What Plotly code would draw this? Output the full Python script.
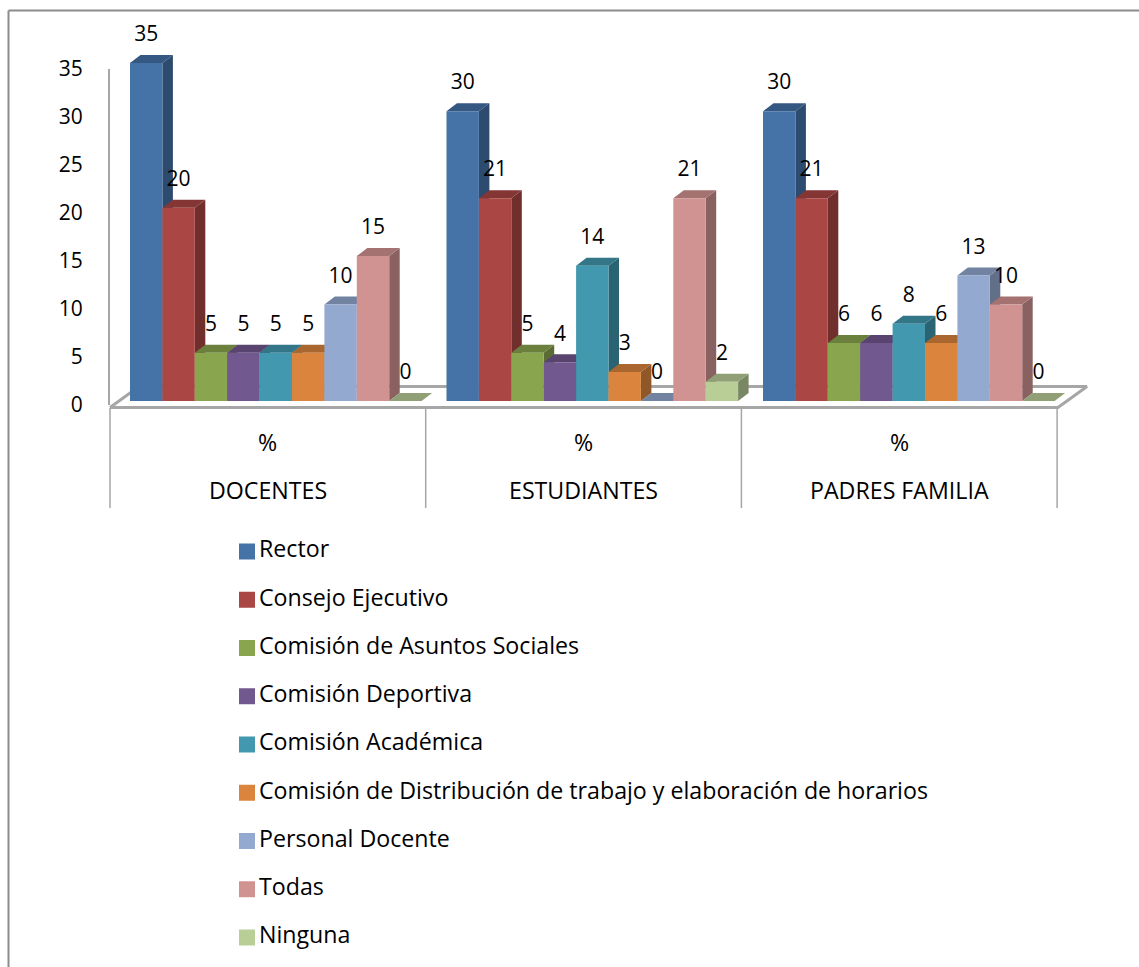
import plotly.graph_objects as go

# ---------- data ----------
groups = ["DOCENTES", "ESTUDIANTES", "PADRES FAMILIA"]
sub_label = "%"
series_names = [
    "Rector",
    "Consejo Ejecutivo",
    "Comisión de Asuntos Sociales",
    "Comisión Deportiva",
    "Comisión Académica",
    "Comisión de Distribución de trabajo y elaboración de horarios",
    "Personal Docente",
    "Todas",
    "Ninguna",
]
rector = [35, 30, 30]
consejo = [20, 21, 21]
asuntos = [5, 5, 6]
deportiva = [5, 4, 6]
academica = [5, 14, 8]
distribucion = [5, 3, 6]
docente = [10, 0, 13]
todas = [15, 21, 10]
ninguna = [0, 2, 0]
series_values = [rector, consejo, asuntos, deportiva, academica, distribucion, docente, todas, ninguna]
colors = ["#4572A7", "#AA4643", "#89A54E", "#71588F", "#4198AF", "#DB843D", "#93A9CF", "#D19392", "#B9CD96"]

# ---------- layout constants ----------
W, H = 1139, 967
FONT = "Open Sans"
FS = 23.2
FS_NUM = 21
GREY = "#A6A6A6"
GROUP_PX, ORIGIN_PX, BAR_PX = 316.5, 130.0, 32.4
BASE_PY, UNIT_PY = 401.0, 9.66
DX_PX, DY_PY = 10.5, 8.0


def X(px):
    return (px - ORIGIN_PX) / GROUP_PX


def Y(py):
    return (BASE_PY - py) / UNIT_PY


def shade(hex_color, f):
    r, g, b = (int(hex_color[i:i + 2], 16) for i in (1, 3, 5))
    return f"rgb({int(r * f)},{int(g * f)},{int(b * f)})"


bw = BAR_PX / GROUP_PX
ddx = DX_PX / GROUP_PX
ddy = DY_PY / UNIT_PY
xrange_ = [X(0), X(W)]
yrange_ = [Y(H), Y(0)]

fig = go.Figure()

# floor
fig.add_trace(go.Scatter(
    x=[X(110), X(139), X(1087), X(1058), X(110)],
    y=[Y(407.5), Y(386.5), Y(386.5), Y(407.5), Y(407.5)],
    mode="lines", fill="toself", fillcolor="white",
    line=dict(color=GREY, width=3), hoverinfo="skip", showlegend=False,
))

# 3-D faces (side + top) computed from the values
for s, vals in enumerate(series_values):
    sx, sy, tx, ty = [], [], [], []
    for g, v in enumerate(vals):
        x0 = g + s * bw
        x1 = x0 + bw
        sx += [x1, x1 + ddx, x1 + ddx, x1, None]
        sy += [0, ddy, v + ddy, v, None]
        tx += [x0, x0 + ddx, x1 + ddx, x1, None]
        ty += [v, v + ddy, v + ddy, v, None]
    for fx, fy, f in ((sx, sy, 0.66), (tx, ty, 0.78)):
        fig.add_trace(go.Scatter(
            x=fx, y=fy, mode="lines", fill="toself",
            fillcolor=shade(colors[s], f), line=dict(width=0),
            hoverinfo="skip", showlegend=False,
        ))

# front faces
for s, (name, vals) in enumerate(zip(series_names, series_values)):
    fig.add_trace(go.Bar(
        x=[g + (s + 0.5) * bw for g in range(len(groups))], y=vals, width=bw,
        name=name, marker=dict(color=colors[s], line=dict(width=0)),
        xaxis="x2", yaxis="y2", showlegend=False,
    ))

# data labels
LABEL_UP = 27 / UNIT_PY
for s, vals in enumerate(series_values):
    fig.add_trace(go.Scatter(
        x=[g + (s + 0.5) * bw for g in range(len(groups))],
        y=[v + LABEL_UP for v in vals],
        text=[str(v) for v in vals], mode="text", textposition="middle center",
        textfont=dict(family=FONT, size=FS_NUM, color="black"),
        xaxis="x2", yaxis="y2", hoverinfo="skip", showlegend=False,
    ))

# legend keys
for s, name in enumerate(series_names):
    yy = Y(551.5 + s * 48.25)
    fig.add_trace(go.Scatter(
        x=[X(247)], y=[yy], mode="markers",
        marker=dict(symbol="square", size=16, color=colors[s], line=dict(width=0)),
        xaxis="x2", yaxis="y2", hoverinfo="skip", showlegend=False,
    ))
    fig.add_trace(go.Scatter(
        x=[X(259)], y=[yy], text=[name], mode="text", textposition="middle right",
        textfont=dict(family=FONT, size=FS, color="black"),
        xaxis="x2", yaxis="y2", hoverinfo="skip", showlegend=False,
    ))

# value axis carrier
fig.add_trace(go.Scatter(
    x=[0], y=[0], mode="markers", marker=dict(opacity=0),
    xaxis="x3", yaxis="y3", hoverinfo="skip", showlegend=False,
))

# multi-level category labels and separators
shapes = []
SEP0, SEP_STEP = 110.0, 315.7
for i in range(len(groups) + 1):
    px = SEP0 + i * SEP_STEP
    shapes.append(dict(type="line", xref="paper", yref="paper",
                       x0=px / W, x1=px / W, y0=1 - 408 / H, y1=1 - 508 / H,
                       line=dict(color=GREY, width=1.5)))
annotations = []
for i, g in enumerate(groups):
    cx = (SEP0 + (i + 0.5) * SEP_STEP) / W
    for text, py in ((sub_label, 442), (g, 490)):
        annotations.append(dict(text=text, x=cx, y=1 - py / H, xref="paper", yref="paper",
                                xanchor="center", yanchor="middle", showarrow=False,
                                font=dict(family=FONT, size=FS, color="black")))

# outer chart border (top and left only are in frame)
shapes.append(dict(type="line", xref="paper", yref="paper", x0=8.5 / W, x1=1, y0=1 - 10.5 / H, y1=1 - 10.5 / H,
                   line=dict(color="#8C8C8C", width=2)))
shapes.append(dict(type="line", xref="paper", yref="paper", x0=8.5 / W, x1=8.5 / W, y0=1 - 10.5 / H, y1=0,
                   line=dict(color="#8C8C8C", width=2)))

hidden = dict(visible=False, fixedrange=True)
fig.update_layout(
    width=W, height=H, margin=dict(l=0, r=0, t=0, b=0),
    paper_bgcolor="white", plot_bgcolor="rgba(0,0,0,0)",
    showlegend=False, barmode="overlay",
    shapes=shapes, annotations=annotations,
    xaxis=dict(range=xrange_, domain=[0, 1], **hidden),
    yaxis=dict(range=yrange_, domain=[0, 1], **hidden),
    xaxis2=dict(range=xrange_, overlaying="x", **hidden),
    yaxis2=dict(range=yrange_, overlaying="y", **hidden),
    xaxis3=dict(range=[-1, 1], domain=[0, 1], anchor="y3", **hidden),
    yaxis3=dict(
        range=[0, 35], domain=[1 - 405 / H, 1 - 69 / H], anchor="free", position=109 / W,
        tick0=0, dtick=5, ticks="", showgrid=False, zeroline=False, automargin=False,
        showline=True, linecolor=GREY, linewidth=2, ticklabelstandoff=21,
        tickfont=dict(family=FONT, size=FS_NUM, color="black"), fixedrange=True,
    ),
)

fig.write_html("out.html", config=dict(displayModeBar=False),
               post_script="document.body.style.margin='0';document.body.style.overflow='hidden';")
